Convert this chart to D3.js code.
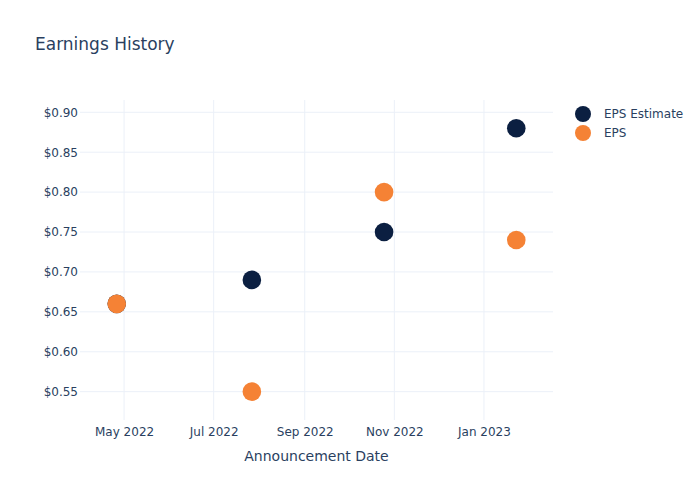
<!DOCTYPE html>
<html><head><meta charset="utf-8">
<script src="https://cdn.jsdelivr.net/npm/d3@7"></script>
<style>body{margin:0;background:#fff;font-family:"DejaVu Sans",sans-serif;}</style>
</head><body><div id="chart"></div>
<script>
const dates = ["2022-04-26","2022-07-27","2022-10-25","2023-01-23"];
const epsEstimate = [0.66, 0.69, 0.75, 0.88];
const eps = [0.66, 0.55, 0.80, 0.74];
const seriesNames = ["EPS Estimate","EPS"];
const seriesColors = ["#0b1f41","#f58235"];
const yTicks = [0.55,0.60,0.65,0.70,0.75,0.80,0.85,0.90];
const xTicks = ["2022-05-01","2022-07-01","2022-09-01","2022-11-01","2023-01-01"];

const W=700,H=500, m={l:80,r:147,t:100,b:80};
const FF="'DejaVu Sans',sans-serif";
const parse=d3.utcParse("%Y-%m-%d");
const svg=d3.select("#chart").append("svg").attr("width",W).attr("height",H).attr("font-family",FF);
const x=d3.scaleUtc().domain([parse("2022-04-01"),parse("2023-02-17")]).range([m.l,W-m.r]);
const y=d3.scaleLinear().domain([0.5145,0.9154]).range([H-m.b,m.t]);
const txt="#2a3f5f", grid="#ebf0f8";

svg.append("text").attr("x",35).attr("y",50).attr("fill",txt).attr("font-size",17).text("Earnings History");

const g=svg.append("g");
g.selectAll(".hg").data(yTicks).join("line").attr("x1",m.l).attr("x2",W-m.r)
 .attr("y1",d=>y(d)).attr("y2",d=>y(d)).attr("stroke",grid).attr("stroke-width",1);
g.selectAll(".vg").data(xTicks).join("line").attr("y1",m.t).attr("y2",H-m.b)
 .attr("x1",d=>x(parse(d))).attr("x2",d=>x(parse(d))).attr("stroke",grid).attr("stroke-width",1);

const yAxis=d3.axisLeft(y).tickValues(yTicks).tickFormat(d=>"$"+d3.format(".2f")(d)).tickSize(0).tickPadding(2);
const ya=svg.append("g").attr("transform",`translate(${m.l},0)`).call(yAxis);
ya.select(".domain").remove();
ya.selectAll("text").attr("fill",txt).attr("font-size",12).attr("font-family",FF);

const xAxis=d3.axisBottom(x).tickValues(xTicks.map(parse)).tickFormat(d3.utcFormat("%b %Y")).tickSize(0).tickPadding(7);
const xa=svg.append("g").attr("transform",`translate(0,${H-m.b})`).call(xAxis);
xa.select(".domain").remove();
xa.selectAll("text").attr("fill",txt).attr("font-size",12).attr("font-family",FF);

svg.append("text").attr("x",(m.l+W-m.r)/2).attr("y",461).attr("text-anchor","middle")
 .attr("fill",txt).attr("font-size",14).text("Announcement Date");

[epsEstimate,eps].forEach((vals,i)=>{
  svg.append("g").selectAll("circle").data(vals).join("circle")
   .attr("cx",(d,j)=>x(parse(dates[j]))).attr("cy",d=>y(d)).attr("r",9.3)
   .attr("fill",seriesColors[i]);
});

const lg=svg.append("g");
seriesNames.forEach((n,i)=>{
  lg.append("circle").attr("cx",583).attr("cy",114+i*19).attr("r",8).attr("fill",seriesColors[i]);
  lg.append("text").attr("x",604).attr("y",118+i*19).attr("fill",txt).attr("font-size",12).text(n);
});
</script></body></html>
